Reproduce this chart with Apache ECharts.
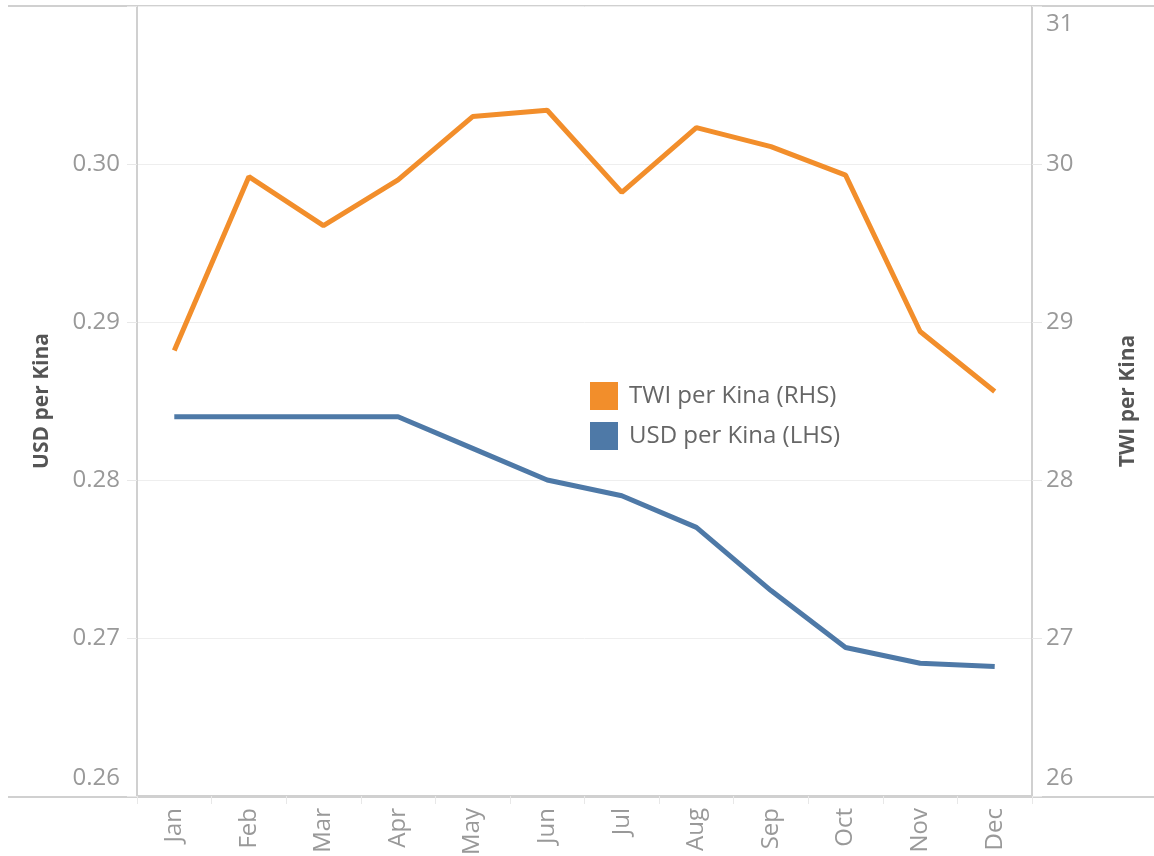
<!DOCTYPE html>
<html>
<head>
<meta charset="utf-8">
<script src="https://cdn.jsdelivr.net/npm/echarts@6/dist/echarts.min.js"></script>
<style>
  html, body { margin: 0; padding: 0; background: #fff; }
  #chart { width: 1154px; height: 856px; }
</style>
</head>
<body>
<div id="chart"></div>
<script>
  // months on the x axis
  const months = ['Jan', 'Feb', 'Mar', 'Apr', 'May', 'Jun', 'Jul', 'Aug', 'Sep', 'Oct', 'Nov', 'Dec'];
  // TWI per Kina, right axis
  const twiPerKina = [28.82, 29.92, 29.61, 29.90, 30.30, 30.34, 29.82, 30.23, 30.11, 29.93, 28.94, 28.56];
  // USD per Kina, left axis
  const usdPerKina = [0.284, 0.284, 0.284, 0.284, 0.282, 0.280, 0.279, 0.277, 0.273, 0.2694, 0.2684, 0.2682];

  const font = '"Open Sans", "Noto Sans", sans-serif';
  const axisGrey = '#d0d0d0';

  const chart = echarts.init(document.getElementById('chart'));

  let option = {
    animation: false,
    textStyle: { fontFamily: font },
    grid: { left: 137, right: 122, top: 6, bottom: 60, outerBoundsMode: 'none', containLabel: false },
    legend: {
      orient: 'vertical',
      left: 590, top: 382,
      padding: 0,
      icon: 'rect',
      itemWidth: 28, itemHeight: 28, itemGap: 12,
      textStyle: { fontSize: 24, color: '#666', fontFamily: font, padding: [0, 0, 0, 6] },
      data: ['TWI per Kina (RHS)', 'USD per Kina (LHS)']
    },
    xAxis: {
      type: 'category',
      data: months,
      boundaryGap: true,
      axisLine: { show: true, lineStyle: { color: axisGrey, width: 2 } },
      axisTick: { show: true, interval: 0, length: 8, lineStyle: { color: '#e8e8e8' } },
      axisLabel: { rotate: 90, margin: 12, fontSize: 24, color: '#999', interval: 0 }
    },
    yAxis: [
      {
        type: 'value',
        position: 'left',
        min: 0.26, max: 0.31, interval: 0.01,
        name: 'USD per Kina',
        nameLocation: 'middle',
        nameGap: 84,
        nameTextStyle: { fontSize: 21, fontWeight: 'bold', color: '#555' },
        axisLine: { show: true, lineStyle: { color: axisGrey, width: 2 } },
        axisTick: { show: true, length: 10, lineStyle: { color: '#e8e8e8' } },
        splitLine: { show: true, lineStyle: { color: '#eeeeee' } },
        axisLabel: {
          fontSize: 24, color: '#999', margin: 17, lineHeight: 36,
          formatter: function (v) {
            if (v > 0.305) return '';
            if (v < 0.265) return v.toFixed(2) + '\n ';
            return v.toFixed(2);
          }
        }
      },
      {
        type: 'value',
        position: 'right',
        min: 26, max: 31, interval: 1,
        name: 'TWI per Kina',
        nameLocation: 'middle',
        nameGap: 86,
        nameTextStyle: { fontSize: 21, fontWeight: 'bold', color: '#555' },
        axisLine: { show: true, lineStyle: { color: axisGrey, width: 2 } },
        axisTick: { show: true, length: 10, lineStyle: { color: '#e8e8e8' } },
        splitLine: { show: false },
        axisLabel: {
          fontSize: 24, color: '#999', margin: 14, lineHeight: 36,
          formatter: function (v) {
            if (v === 31) return ' \n31';
            if (v === 26) return '26\n ';
            return String(v);
          }
        }
      }
    ],
    graphic: [
      // top frame line and extended bottom line
      { type: 'line', shape: { x1: 8, y1: 6, x2: 1154, y2: 6 }, style: { stroke: axisGrey, lineWidth: 2 }, z: 0 },
      { type: 'line', shape: { x1: 8, y1: 797, x2: 1154, y2: 797 }, style: { stroke: axisGrey, lineWidth: 2 }, z: 0 }
    ],
    series: [
      {
        name: 'TWI per Kina (RHS)',
        type: 'line',
        yAxisIndex: 1,
        color: '#F28E2B',
        symbol: 'none',
        lineStyle: { width: 5 },
        data: twiPerKina
      },
      {
        name: 'USD per Kina (LHS)',
        type: 'line',
        yAxisIndex: 0,
        color: '#4E79A7',
        symbol: 'none',
        lineStyle: { width: 5 },
        data: usdPerKina
      }
    ]
  };

  chart.setOption(option);
</script>
</body>
</html>
